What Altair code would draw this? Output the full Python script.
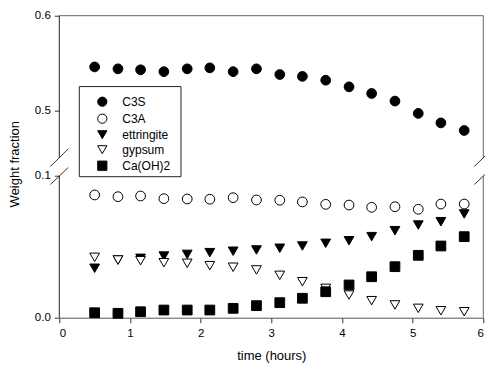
import altair as alt
import pandas as pd

hours = [0.50, 0.83, 1.15, 1.48, 1.81, 2.13, 2.46, 2.79, 3.12, 3.44, 3.77, 4.10, 4.42, 4.75, 5.08, 5.40, 5.73]
c3s = [0.546, 0.544, 0.543, 0.541, 0.544, 0.545, 0.541, 0.544, 0.538, 0.536, 0.532, 0.525, 0.518, 0.510, 0.497, 0.487, 0.479]
c3a = [0.0866, 0.0854, 0.0859, 0.0840, 0.0838, 0.0836, 0.0847, 0.0831, 0.0829, 0.0817, 0.0800, 0.0795, 0.0779, 0.0783, 0.0765, 0.0802, 0.0802]
ettringite = [0.0349, 0.0407, 0.0419, 0.0435, 0.0447, 0.0459, 0.0469, 0.0478, 0.0490, 0.0506, 0.0525, 0.0543, 0.0572, 0.0614, 0.0654, 0.0677, 0.0732]
gypsum = [0.0426, 0.0407, 0.0402, 0.0388, 0.0384, 0.0367, 0.0356, 0.0337, 0.0299, 0.0254, 0.0207, 0.0160, 0.0120, 0.0090, 0.0066, 0.0049, 0.0042]
caoh2 = [0.0035, 0.0031, 0.0042, 0.0054, 0.0054, 0.0054, 0.0066, 0.0085, 0.0106, 0.0137, 0.0183, 0.0231, 0.0289, 0.0360, 0.0440, 0.0506, 0.0572]

series_names = ["C3S", "C3A", "ettringite", "gypsum", "Ca(OH)2"]
series_values = [c3s, c3a, ettringite, gypsum, caoh2]
shapes = ["circle", "circle", "triangle-down", "triangle-down", "square"]
fills = ["black", "white", "black", "white", "black"]
strokes = ["black", "black", "black", "black", "black"]

x_ticks = [0, 1, 2, 3, 4, 5, 6]
y_ticks = [0.0, 0.1, 0.5, 0.6]

# broken axis: lower part 0-0.1, upper part 0.45-0.6
low_top, high_bottom, y_max = 0.1, 0.45, 0.6

rows = []
for name, vals in zip(series_names, series_values):
    for h, v in zip(hours, vals):
        rows.append({"time": h, "value": v, "series": name})
df = pd.DataFrame(rows)

W, H = 424, 302
r_low_top = 160.3      # pixel of 0.1
r_high_bottom = 142.3  # pixel of 0.45

xscale = alt.Scale(domain=[0, 6], nice=False, zero=False)
yscale = alt.Scale(domain=[0.0, low_top, high_bottom, y_max],
                   range=[H, r_low_top, r_high_bottom, 0], zero=False, nice=False)

FONT = "Liberation Sans"

legend = alt.Legend(
    title=None, orient="none", legendX=20, legendY=71,
    padding=9, symbolOffset=8, labelOffset=14, rowPadding=3,
    strokeColor="transparent",
    symbolStrokeWidth=1, symbolSize=85,
    labelFont=FONT, labelFontSize=12, labelColor="black",
)

points = alt.Chart(df).mark_point(filled=False, strokeWidth=1, size=95, opacity=1).encode(
    x=alt.X("time:Q", scale=xscale, axis=alt.Axis(
        title="time (hours)", values=x_ticks, format="d", grid=False,
        domainColor="#555", tickColor="#333", tickSize=5, labelPadding=5,
        titleY=38, titleBaseline="middle")),
    y=alt.Y("value:Q", scale=yscale, axis=alt.Axis(
        title="Weight fraction", values=y_ticks, format=".1f", grid=False, domain=False,
        tickColor="#333", tickSize=5, labelPadding=4, titleX=-38, titleY=148)),
    shape=alt.Shape("series:N", scale=alt.Scale(domain=series_names, range=shapes), legend=legend),
    fill=alt.Fill("series:N", scale=alt.Scale(domain=series_names, range=fills), legend=legend),
    stroke=alt.Stroke("series:N", scale=alt.Scale(domain=series_names, range=strokes), legend=legend),
)

# legend frame box (decoration, in data coordinates)
box_df = pd.DataFrame({"x": [0.283], "x2": [1.722], "y": [0.0995], "y2": [0.5253]})
box = alt.Chart(box_df).mark_rect(fill="white", stroke="#222", strokeWidth=1).encode(
    x=alt.X("x:Q", scale=xscale), x2="x2:Q",
    y=alt.Y("y:Q", scale=yscale), y2="y2:Q",
)

# frame / broken axis lines
seg_x = [0, 0, 6, 6, 0]
seg_x2 = [0, 0, 6, 6, 6]
seg_y = [0.0, high_bottom, 0.0, high_bottom, y_max]
seg_y2 = [low_top, y_max, low_top, y_max, y_max]
seg_c = ["#222", "#222", "#666", "#666", "#666"]
frame_df = pd.DataFrame({"x": seg_x, "x2": seg_x2, "y": seg_y, "y2": seg_y2, "c": seg_c})
frame = alt.Chart(frame_df).mark_rule(strokeWidth=1).encode(
    x=alt.X("x:Q", scale=xscale), x2="x2:Q",
    y=alt.Y("y:Q", scale=yscale), y2="y2:Q",
    color=alt.Color("c:N", scale=None),
)

# break slashes (diagonals across each end of the gap)
dxh = 0.126
sl_x = [-dxh, -dxh, 6 - dxh, 6 - dxh]
sl_x2 = [dxh, dxh, 6 + dxh, 6 + dxh]
sl_y = [0.285, 0.094, 0.285, 0.094]
sl_y2 = [0.4595, 0.265, 0.4595, 0.265]
slash_df = pd.DataFrame({"x": sl_x, "x2": sl_x2, "y": sl_y, "y2": sl_y2})
slashes = alt.Chart(slash_df).mark_rule(strokeWidth=1, color="#333").encode(
    x=alt.X("x:Q", scale=xscale), x2="x2:Q",
    y=alt.Y("y:Q", scale=yscale), y2="y2:Q",
)

chart = alt.layer(frame, slashes, box, points).properties(
    width=W, height=H,
    autosize=alt.AutoSizeParams(type="none"),
    padding={"left": 51.3, "top": 7.7, "right": 1.7, "bottom": 48},
).configure_view(stroke=None).configure_axis(
    labelFont=FONT, labelFontSize=11.5, labelColor="black",
    titleFont=FONT, titleFontSize=13, titleColor="black", titleFontWeight="normal",
)

chart.save("out.html", embed_options={"renderer": "svg", "actions": False})
